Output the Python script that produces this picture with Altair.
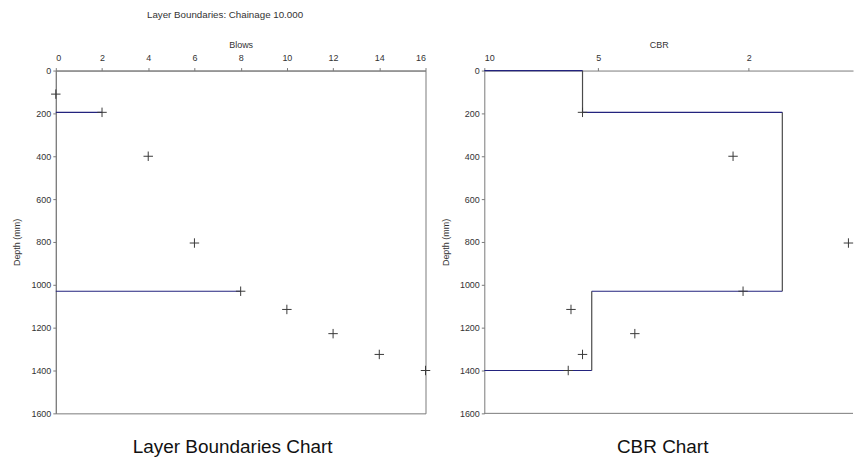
import altair as alt
import pandas as pd

# Dynamic cone penetrometer readings, chainage 10.000
blows = [0, 2, 4, 6, 8, 10, 12, 14, 16]
blow_depth = [110, 195, 400, 805, 1030, 1115, 1228, 1325, 1400]

# CBR worked out for each reading after the first
cbr_depth = [195, 400, 805, 1030, 1115, 1228, 1325, 1400]
cbr_values = [5.5, 2.2, 1.09, 2.07, 5.9, 4.0, 5.5, 6.0]

# Layers picked from the blow profile
layer_top = [0, 195, 1030]
layer_bottom = [195, 1030, 1400]
layer_cbr = [5.5, 1.63, 5.2]
boundary_depth = [195, 1030]
boundary_blows = [2, 8]

# Axis ranges and tick labels
depth_domain = [0, 1600]
depth_ticks = [0, 200, 400, 600, 800, 1000, 1200, 1400, 1600]
blow_domain = [0, 16]
blow_ticks = [0, 2, 4, 6, 8, 10, 12, 14, 16]
cbr_domain = [1.06, 10]
cbr_ticks = [10, 5, 2]

FONT = "Liberation Sans"
NAVY = "#23237e"
STEP_GREY = "#4a4a4a"
MARK_GREY = "#3a3a3a"
FRAME = "#7a7a7a"
PLUS = "M-1,0L1,0M0,-1L0,1"

W_LEFT, W_RIGHT, H = 371, 370, 344

y_enc = dict(
    scale=alt.Scale(domain=depth_domain, reverse=True, nice=False, zero=False),
    axis=alt.Axis(values=depth_ticks, title="Depth (mm)", format="d"),
)

# ---------------- blows vs depth ----------------
blows_df = pd.DataFrame({"blows": blows, "depth": blow_depth})
bound_df = pd.DataFrame({
    "depth": boundary_depth,
    "start": [blow_domain[0]] * len(boundary_depth),
    "blows": boundary_blows,
})

x_blows = alt.Scale(domain=blow_domain, nice=False, zero=False)
blow_axis = alt.Axis(orient="top", values=blow_ticks, title="Blows")

blow_lines = alt.Chart(bound_df).mark_rule(color=NAVY, strokeWidth=1.2).encode(
    x=alt.X("start:Q", scale=x_blows, axis=blow_axis),
    x2="blows:Q",
    y=alt.Y("depth:Q", **y_enc),
)
blow_pts = alt.Chart(blows_df).mark_point(
    shape=PLUS, size=90, filled=False, color=MARK_GREY, strokeWidth=1, opacity=1
).encode(
    x=alt.X("blows:Q", scale=x_blows, axis=blow_axis),
    y=alt.Y("depth:Q", **y_enc),
)
left = alt.layer(blow_lines, blow_pts).properties(
    width=W_LEFT, height=H,
    view=alt.ViewBackground(stroke=FRAME, strokeWidth=1),
    title=alt.TitleParams("Layer Boundaries Chart", orient="bottom", fontSize=19,
                          font=FONT, fontWeight="normal", color="#111111",
                          offset=20, dx=-8),
)

# ---------------- CBR vs depth ----------------
cbr_df = pd.DataFrame({"cbr": cbr_values, "depth": cbr_depth})

edge = cbr_domain[1]
step_cbr = [edge] + layer_cbr + [edge]
h_df = pd.DataFrame({
    "depth": layer_top + [layer_bottom[-1]],
    "from": step_cbr[:-1],
    "to": step_cbr[1:],
})
v_df = pd.DataFrame({"cbr": layer_cbr, "top": layer_top, "bottom": layer_bottom})
floor_df = pd.DataFrame({"depth": [depth_domain[1]]})

x_cbr = alt.Scale(type="log", domain=cbr_domain, reverse=True, nice=False)
cbr_axis = alt.Axis(orient="top", values=cbr_ticks, title="CBR", titleX=175)

floor = alt.Chart(floor_df).mark_rule(color=FRAME, strokeWidth=1).encode(
    y=alt.Y("depth:Q", **y_enc),
)
v_lines = alt.Chart(v_df).mark_rule(color=STEP_GREY, strokeWidth=1.2).encode(
    x=alt.X("cbr:Q", scale=x_cbr, axis=cbr_axis),
    y=alt.Y("top:Q", **y_enc),
    y2="bottom:Q",
)
h_lines = alt.Chart(h_df).mark_rule(color=NAVY, strokeWidth=1.2).encode(
    x=alt.X("from:Q", scale=x_cbr, axis=cbr_axis),
    x2="to:Q",
    y=alt.Y("depth:Q", **y_enc),
)
cbr_pts = alt.Chart(cbr_df).mark_point(
    shape=PLUS, size=90, filled=False, color=MARK_GREY, strokeWidth=1, opacity=1
).encode(
    x=alt.X("cbr:Q", scale=x_cbr, axis=cbr_axis),
    y=alt.Y("depth:Q", **y_enc),
)
right = alt.layer(floor, v_lines, h_lines, cbr_pts).properties(
    width=W_RIGHT, height=H,
    view=alt.ViewBackground(stroke=None),
    title=alt.TitleParams("CBR Chart", orient="bottom", fontSize=19,
                          font=FONT, fontWeight="normal", color="#111111",
                          offset=20, dx=-6),
)

chart = alt.hconcat(left, right, spacing=59, bounds="flush").properties(
    title=alt.TitleParams("Layer Boundaries: Chainage 10.000", fontSize=9.8, font=FONT,
                          fontWeight="normal", color="#333333", anchor="start",
                          dx=135, offset=20.5),
    padding={"left": 12, "top": 9, "right": 0, "bottom": 0},
).configure_view(
    stroke=None
).configure_axis(
    labelFont=FONT, titleFont=FONT, labelFontSize=9, titleFontSize=9,
    labelColor="#333333", titleColor="#333333", titleFontWeight="normal",
    domainColor=FRAME, tickColor=FRAME, tickSize=3, grid=False,
    labelPadding=5, titlePadding=4,
).configure_axisY(
    titlePadding=9, labelPadding=2,
)

chart.save("out.html", embed_options={"renderer": "svg", "actions": False})
